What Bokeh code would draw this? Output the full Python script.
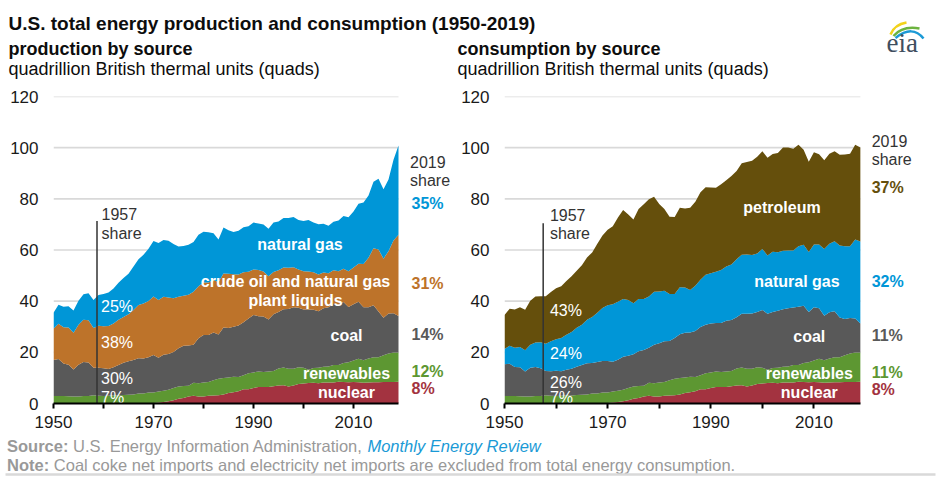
from bokeh.plotting import figure
from bokeh.layouts import column, row
from bokeh.models import Range1d, FixedTicker, ColumnDataSource
from bokeh.core.properties import value
from bokeh.embed import file_html
from bokeh.resources import INLINE

FONT = value("Liberation Sans")
AXFONT = "Liberation Sans"

# ---------------- data (quadrillion Btu) ----------------
years = list(range(1950, 2020))

prod_nuclear = [0, 0, 0, 0, 0, 0, 0, 0, 0.002, 0.002,
                0.006, 0.020, 0.026, 0.038, 0.040, 0.043, 0.064, 0.088, 0.142, 0.154,
                0.239, 0.413, 0.584, 0.910, 1.272, 1.900, 2.111, 2.702, 3.024, 2.776,
                2.739, 3.008, 3.131, 3.203, 3.553, 4.076, 4.380, 4.754, 5.587, 5.602,
                6.104, 6.422, 6.479, 6.410, 6.694, 7.075, 7.087, 6.597, 7.068, 7.610,
                7.862, 8.029, 8.145, 7.960, 8.223, 8.161, 8.215, 8.459, 8.426, 8.355,
                8.434, 8.269, 8.062, 8.244, 8.338, 8.337, 8.427, 8.419, 8.438, 8.462]
prod_renewables = [2.978, 2.958, 2.940, 2.831, 2.754, 2.784, 2.928, 2.956, 3.188, 3.047,
                   2.929, 3.008, 3.212, 3.137, 3.319, 3.396, 3.493, 3.816, 3.791, 4.101,
                   4.076, 4.268, 4.398, 4.433, 4.769, 4.723, 4.768, 4.249, 5.039, 5.166,
                   5.428, 5.414, 5.980, 6.496, 6.438, 6.084, 6.111, 5.622, 5.457, 6.235,
                   6.040, 6.069, 5.821, 6.083, 5.988, 6.558, 7.012, 7.018, 6.494, 6.517,
                   6.102, 5.162, 5.729, 5.985, 6.116, 6.267, 6.876, 6.634, 7.422, 7.767,
                   8.354, 9.259, 8.844, 9.388, 9.736, 9.704, 10.409, 11.156, 11.508, 11.465]
prod_coal = [14.060, 14.419, 12.734, 12.278, 10.542, 12.370, 13.306, 13.061, 10.783, 10.971,
             10.817, 10.447, 10.901, 11.849, 12.524, 13.055, 13.468, 13.825, 13.609, 13.863,
             14.607, 13.186, 14.092, 13.992, 14.074, 14.989, 15.654, 15.755, 14.910, 17.540,
             18.598, 18.377, 18.639, 17.247, 19.719, 19.325, 19.509, 20.141, 20.738, 21.360,
             22.488, 21.636, 21.694, 20.336, 22.202, 22.130, 22.790, 23.310, 24.045, 23.295,
             22.735, 23.547, 22.732, 22.094, 22.852, 23.185, 23.790, 23.493, 23.851, 21.624,
             22.038, 22.221, 20.677, 19.989, 20.286, 17.946, 14.667, 15.625, 15.363, 14.256]
prod_crude_ngpl = [12.16, 13.84, 14.14, 14.56, 14.35, 15.65, 16.47, 16.48, 15.50, 16.34,
                   16.40, 16.82, 17.11, 17.68, 17.91, 18.40, 19.56, 20.76, 21.56, 21.94,
                   22.91, 22.58, 22.64, 22.06, 21.05, 20.10, 19.59, 19.78, 20.68, 20.39,
                   20.50, 20.45, 20.50, 20.58, 21.12, 21.23, 20.53, 19.89, 19.54, 18.27,
                   17.75, 18.01, 17.59, 16.90, 16.49, 16.33, 16.25, 16.15, 15.66, 14.98,
                   14.97, 14.83, 14.72, 14.37, 13.97, 13.30, 13.16, 13.13, 12.93, 13.92,
                   14.37, 14.90, 16.97, 19.32, 22.34, 24.21, 23.12, 24.34, 28.44, 31.78]
prod_natural_gas = [6.233, 7.416, 7.964, 8.339, 8.682, 9.345, 10.001, 10.600, 10.942, 12.041,
                    12.656, 13.105, 13.717, 14.513, 15.298, 15.775, 17.011, 17.943, 19.068, 20.446,
                    21.666, 22.280, 22.208, 22.187, 21.210, 19.640, 19.480, 19.565, 19.485, 20.076,
                    19.908, 19.699, 18.319, 16.593, 18.008, 16.980, 16.541, 17.136, 17.599, 17.847,
                    18.326, 18.229, 18.375, 18.584, 19.348, 19.082, 19.344, 19.394, 19.613, 19.341,
                    19.662, 20.166, 19.382, 19.633, 19.074, 18.556, 19.022, 19.786, 20.703, 21.139,
                    21.806, 23.406, 24.033, 24.400, 26.003, 27.645, 27.109, 27.980, 31.491, 34.886]

cons_nuclear = list(prod_nuclear)
cons_renewables = list(prod_renewables)
cons_coal = [12.347, 12.553, 11.306, 11.373, 9.715, 11.167, 11.350, 10.821, 9.533, 9.518,
             9.838, 9.623, 9.906, 10.413, 10.964, 11.581, 12.143, 11.914, 12.331, 12.382,
             12.265, 11.598, 12.077, 12.971, 12.663, 12.663, 13.584, 13.922, 13.766, 15.040,
             15.423, 15.908, 15.322, 15.894, 17.071, 17.478, 17.260, 18.008, 18.846, 18.926,
             19.173, 18.992, 19.122, 19.835, 19.909, 20.089, 21.002, 21.445, 21.656, 21.623,
             22.580, 21.914, 21.904, 22.321, 22.466, 22.797, 22.447, 22.749, 22.385, 19.691,
             20.834, 19.658, 17.378, 18.039, 17.998, 15.549, 14.226, 13.837, 13.241, 11.317]
cons_natural_gas = [5.968, 7.049, 7.550, 7.907, 8.330, 9.000, 9.613, 10.191, 10.663, 11.717,
                    12.385, 12.926, 13.731, 14.403, 15.288, 15.769, 16.995, 17.945, 19.210, 20.678,
                    21.795, 22.469, 22.698, 22.512, 21.732, 19.948, 20.345, 19.931, 20.000, 20.666,
                    20.235, 19.747, 18.356, 17.221, 18.394, 17.703, 16.591, 17.640, 18.448, 19.602,
                    19.603, 20.033, 20.714, 21.229, 21.728, 22.671, 23.085, 23.223, 22.830, 22.909,
                    23.824, 22.773, 23.510, 22.831, 22.923, 22.565, 22.239, 23.663, 23.843, 23.416,
                    24.575, 24.955, 26.089, 26.805, 27.383, 28.191, 28.400, 28.034, 30.961, 32.095]
cons_petroleum = [13.315, 14.428, 14.956, 15.556, 15.839, 17.255, 17.937, 17.932, 18.527, 19.323,
                  19.919, 20.216, 21.049, 21.701, 22.301, 23.246, 24.401, 25.284, 26.979, 28.338,
                  29.521, 30.561, 32.947, 34.840, 33.455, 32.733, 35.175, 37.122, 37.965, 37.123,
                  34.202, 31.931, 30.232, 30.054, 31.051, 30.922, 32.196, 32.865, 34.222, 34.211,
                  33.553, 32.845, 33.527, 33.744, 34.561, 34.438, 35.675, 36.159, 36.816, 37.838,
                  38.262, 38.186, 38.224, 38.811, 40.292, 40.303, 39.824, 39.612, 37.137, 35.307,
                  35.968, 35.291, 34.700, 35.130, 35.111, 35.484, 35.819, 36.174, 36.952, 36.724]

prod_share_1957 = ["25%", "38%", "30%", "7%"]
prod_share_2019 = ["35%", "31%", "14%", "12%", "8%"]
cons_share_1957 = ["43%", "24%", "26%", "7%"]
cons_share_2019 = ["37%", "32%", "11%", "11%", "8%"]

y_ticks = [0, 20, 40, 60, 80, 100, 120]
x_ticks = [1950, 1970, 1990, 2010]
x_minor = [1960, 1980, 2000]

# ---------------- styles ----------------
GAS, CRUDE, COAL, RENEW, NUC, PETRO = "#0096d7", "#bd732a", "#595959", "#5d9732", "#a33340", "#654f0c"
GRID = "#d9d9d9"
DARK = "#333333"


def chart(width, left_border, x_end, stackers, colors, data, line_x, names, name_pos, s57, s57_pos,
          s19, s19_colors, s19_pos, s19_head_pos, s57_head_pos):
    p = figure(width=width, height=351, x_range=Range1d(1950, x_end), y_range=Range1d(0, 120),
               output_backend="svg", toolbar_location=None,
               min_border_left=left_border, min_border_right=0, min_border_top=11, min_border_bottom=33)
    p.outline_line_color = None
    p.grid.visible = False
    grid_vals = y_ticks[1:]
    p.segment(x0=[years[0]] * len(grid_vals), x1=[years[-1]] * len(grid_vals),
              y0=grid_vals, y1=grid_vals, line_color=GRID, line_width=1.6)
    src = ColumnDataSource(data)
    p.varea_stack(stackers=stackers, x="year", color=colors, source=src)

    # 1957 marker line
    p.segment(x0=[line_x[0]], x1=[line_x[0]], y0=[0], y1=[line_x[1]], line_color=DARK, line_width=1.5)

    # series names
    p.text(x=[q[0] for q in name_pos], y=[q[1] for q in name_pos], text=names,
           text_font=FONT, text_font_size="16px", text_font_style="bold", text_color="white",
           text_align="center", text_baseline="middle")
    # 1957 shares
    p.text(x=[s57_pos[0]] * len(s57), y=s57_pos[1], text=s57,
           text_font=FONT, text_font_size="16px", text_color="white",
           text_align="left", text_baseline="middle")
    p.text(x=[s57_head_pos[0]] * 2, y=s57_head_pos[1], text=["1957", "share"],
           text_font=FONT, text_font_size="16px", text_color=DARK,
           text_align="left", text_baseline="middle")
    # 2019 shares
    p.text(x=[s19_head_pos[0]] * 2, y=s19_head_pos[1], text=["2019", "share"],
           text_font=FONT, text_font_size="16px", text_color=DARK,
           text_align="left", text_baseline="middle")
    p.text(x=[s19_pos[0]] * len(s19), y=s19_pos[1], text=s19, text_color=s19_colors,
           text_font=FONT, text_font_size="16px", text_font_style="bold",
           text_align="left", text_baseline="middle")

    xa = p.xaxis[0]
    xa.ticker = FixedTicker(ticks=x_ticks, minor_ticks=x_minor)
    xa.bounds = (years[0], years[-1])
    xa.axis_line_width = 2
    xa.axis_line_color = "black"
    xa.major_tick_line_width = 2
    xa.minor_tick_line_width = 2
    xa.major_tick_line_color = "black"
    xa.minor_tick_line_color = "black"
    xa.major_tick_out = 5
    xa.major_tick_in = 0
    xa.minor_tick_out = 5
    xa.minor_tick_in = 0
    xa.major_label_standoff = 7
    xa.major_label_text_font = AXFONT
    xa.major_label_text_font_size = "17px"
    xa.major_label_text_color = "#1a1a1a"

    ya = p.yaxis[0]
    ya.ticker = FixedTicker(ticks=y_ticks)
    ya.axis_line_color = None
    ya.major_tick_line_color = None
    ya.minor_tick_line_color = None
    ya.major_tick_out = 0
    ya.major_tick_in = 0
    ya.minor_tick_out = 0
    ya.minor_tick_in = 0
    ya.major_label_standoff = 15
    ya.major_label_text_font = AXFONT
    ya.major_label_text_font_size = "17px"
    ya.major_label_text_color = "#1a1a1a"
    return p


left = chart(458, 53, 2031,
             ["nuclear", "renewables", "coal", "crude", "gas"],
             [NUC, RENEW, COAL, CRUDE, GAS],
             dict(year=years, nuclear=prod_nuclear, renewables=prod_renewables, coal=prod_coal,
                  crude=prod_crude_ngpl, gas=prod_natural_gas),
             (1958.7, 71.3),
             ["natural gas", "crude oil and natural gas", "plant liquids", "coal", "renewables", "nuclear"],
             [(1999.3, 62.2), (1998.4, 47.7), (1998.4, 40.3), (2008.6, 26.6), (2008.6, 11.6), (2008.6, 4.4)],
             prod_share_1957, (1959.5, [37.9, 24.0, 9.9, 2.5]),
             prod_share_2019, [GAS, CRUDE, COAL, RENEW, NUC], (2021.6, [78.1, 46.8, 27.0, 12.5, 5.7]),
             (2021.3, [94.3, 87.2]), (1959.6, [74.2, 66.6]))

right = chart(482, 45, 2034.54,
              ["nuclear", "renewables", "coal", "gas", "petroleum"],
              [NUC, RENEW, COAL, GAS, PETRO],
              dict(year=years, nuclear=cons_nuclear, renewables=cons_renewables, coal=cons_coal,
                   gas=cons_natural_gas, petroleum=cons_petroleum),
              (1957.5, 70.5),
              ["petroleum", "natural gas", "coal", "renewables", "nuclear"],
              [(2003.8, 76.7), (2006.7, 47.7), (2009.1, 26.2), (2009.1, 11.6), (2009.1, 4.4)],
              cons_share_1957, (1958.8, [36.4, 19.4, 8.3, 2.5]),
              cons_share_2019, [PETRO, GAS, COAL, RENEW, NUC], (2021.2, [84.3, 47.7, 26.6, 12.2, 5.4]),
              (2021.2, [102.8, 95.3]), (1958.8, [73.8, 66.6]))

# ---------------- header ----------------
header = figure(width=940, height=85, x_range=Range1d(0, 940), y_range=Range1d(85, 0),
                x_axis_type=None, y_axis_type=None, output_backend="svg", toolbar_location=None,
                min_border=0)
header.outline_line_color = None
header.text(x=[8], y=[22.6], text=["U.S. total energy production and consumption (1950-2019)"],
            text_font=FONT, text_font_size="19px", text_font_style="bold", text_color="#0d0d0d",
            text_baseline="middle")
header.text(x=[8, 457], y=[48.7, 48.7], text=["production by source", "consumption by source"],
            text_font=FONT, text_font_size="18px", text_font_style="bold", text_color="#0d0d0d",
            text_baseline="middle")
header.text(x=[8, 457], y=[68.7, 68.7],
            text=["quadrillion British thermal units (quads)", "quadrillion British thermal units (quads)"],
            text_font=FONT, text_font_size="18px", text_color="#0d0d0d", text_baseline="middle")
# eia logo
header.quadratic(x0=[890], y0=[34], cx=[894], cy=[24], x1=[906], y1=[22], line_color="#f2d21b", line_width=2.5)
header.quadratic(x0=[893], y0=[35.5], cx=[902], cy=[25], x1=[919], y1=[28], line_color="#6cb33f", line_width=2.5)
header.quadratic(x0=[895], y0=[37.5], cx=[912], cy=[24], x1=[923], y1=[38], line_color="#1c9ad6", line_width=2.5)
header.text(x=[886], y=[42.3], text=["eia"], text_font=value("Liberation Serif"), text_font_size="27px",
            text_color="#3f4f5f", text_baseline="middle")

# ---------------- footer ----------------
footer = figure(width=940, height=41, x_range=Range1d(0, 940), y_range=Range1d(41, 0),
                x_axis_type=None, y_axis_type=None, output_backend="svg", toolbar_location=None,
                min_border=0)
footer.outline_line_color = None
FG = "#999999"
FS = "16.5px"
footer.text(x=[6.5, 6.5], y=[9.4, 28.4], text=["Source:", "Note:"], text_font=FONT, text_font_size=FS,
            text_font_style="bold", text_color=FG, text_baseline="middle")
footer.text(x=[72.5], y=[9.4], text=["U.S. Energy Information Administration,"], text_font=FONT,
            text_font_size=FS, text_color=FG, text_baseline="middle")
footer.text(x=[366.9], y=[9.4], text=["Monthly Energy Review"], text_font=FONT, text_font_size=FS,
            text_font_style="italic", text_color="#1a9ad6", text_baseline="middle")
footer.text(x=[53.3], y=[28.4],
            text=["Coal coke net imports and electricity net imports are excluded from total energy consumption."],
            text_font=FONT, text_font_size=FS, text_color=FG, text_baseline="middle")
footer.segment(x0=[5], x1=[935], y0=[38], y1=[38], line_color=GRID, line_width=2.5)

layout = column(header, row(left, right), footer)
open("out.html", "w").write(file_html(layout, INLINE))
